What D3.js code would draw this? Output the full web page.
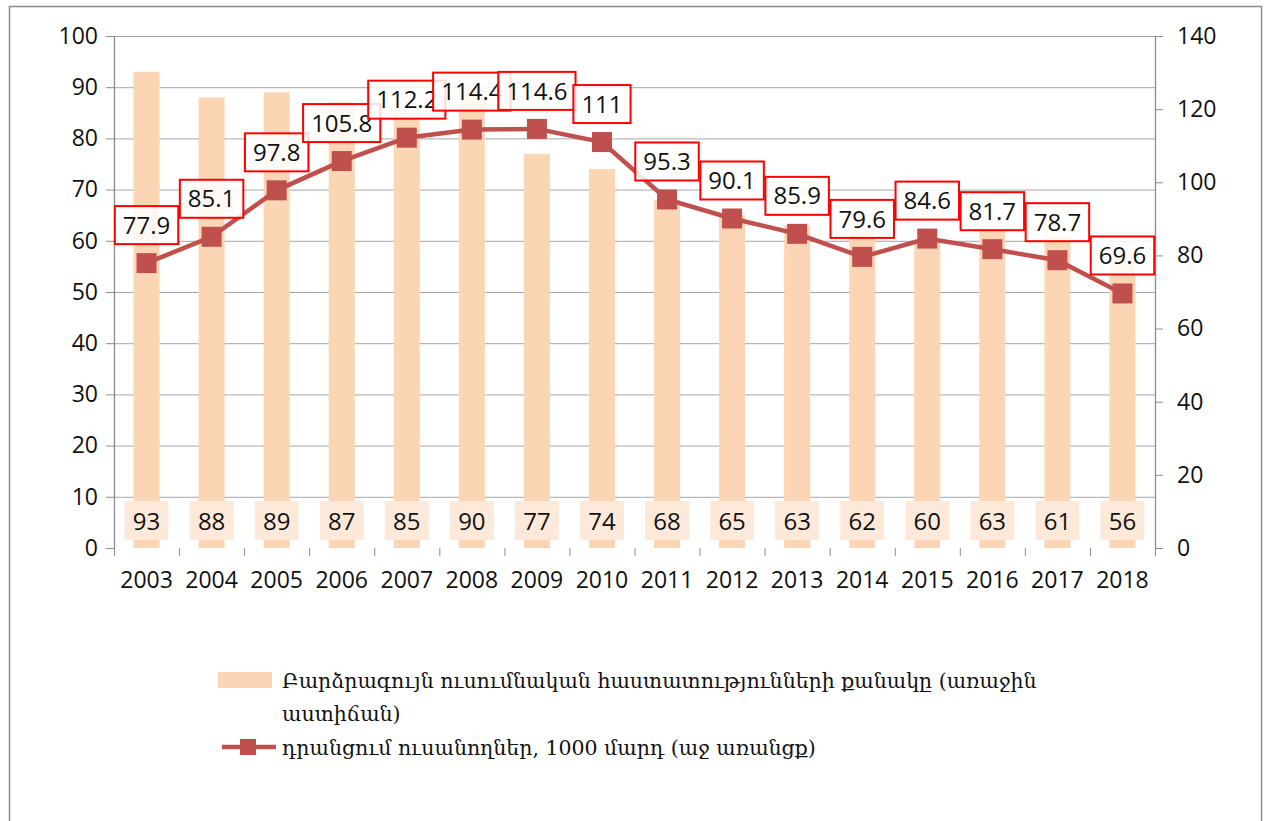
<!DOCTYPE html>
<meta charset="utf-8">
<style>
  body { margin: 0; background: #fff; }
  text { font-family: "Open Sans", "DejaVu Sans", sans-serif; }
</style>
<body>
<div class="chart"></div>
<script src="https://d3js.org/d3.v7.min.js"></script>
<script>

// data
var years = ["2003","2004","2005","2006","2007","2008","2009","2010","2011","2012","2013","2014","2015","2016","2017","2018"];
var institutions = [93, 88, 89, 87, 85, 90, 77, 74, 68, 65, 63, 62, 60, 63, 61, 56];
var students = [77.9, 85.1, 97.8, 105.8, 112.2, 114.4, 114.6, 111, 95.3, 90.1, 85.9, 79.6, 84.6, 81.7, 78.7, 69.6];
var leftTicks = [0, 10, 20, 30, 40, 50, 60, 70, 80, 90, 100];
var rightTicks = [0, 20, 40, 60, 80, 100, 120, 140];
var legendBar = ["Բարձրագույն ուսումնական հաստատությունների քանակը (առաջին", "աստիճան)"];
var legendLine = "դրանցում ուսանողներ, 1000 մարդ (աջ առանցք)";

var W = 1268, H = 821;
var margin = {top: 36, right: 113, bottom: 273, left: 114},
    width = W - margin.left - margin.right,
    height = H - margin.top - margin.bottom;

var svg = d3.select(".chart").append("svg")
    .attr("width", W)
    .attr("height", H);

// outer frame
svg.append("rect")
    .attr("x", 9.5).attr("y", 6.5)
    .attr("width", 1252).attr("height", 830)
    .attr("fill", "none")
    .attr("stroke", "#8c8c8c")
    .attr("stroke-width", 1.5);

var g = svg.append("g")
    .attr("transform", "translate(" + margin.left + "," + margin.top + ")");

// scales
var xCat = d3.scaleBand().domain(years).range([0, width]);
var y = d3.scaleLinear().domain([0, 100]).range([height, 0]);
var y2 = d3.scaleLinear().domain([0, 140]).range([height, 0]);

// gridlines
g.selectAll(".grid")
    .data(leftTicks.slice(1))
  .enter().append("line")
    .attr("x1", 0).attr("x2", width)
    .attr("y1", function(d) { return y(d) + 0.5; })
    .attr("y2", function(d) { return y(d) + 0.5; })
    .style("stroke", "#a6a6a6")
    .style("stroke-width", 1);

// bars
g.selectAll(".bar")
    .data(institutions)
  .enter().append("rect")
    .attr("x", function(d, i) { return xCat(years[i]) + xCat.bandwidth() / 2 - 13; })
    .attr("width", 26)
    .attr("y", function(d) { return y(d); })
    .attr("height", function(d) { return height - y(d); })
    .style("fill", "#fcd5b4");

// axes
var axisColor = "#8c8c8c";
var yAxis = g.append("g")
    .call(d3.axisLeft(y).tickValues(leftTicks).tickSize(8).tickPadding(8));
var y2Axis = g.append("g")
    .attr("transform", "translate(" + width + ",0)")
    .call(d3.axisRight(y2).tickValues(rightTicks).tickSize(8).tickPadding(14));
var xAxis = g.append("g")
    .attr("transform", "translate(0," + height + ")")
    .call(d3.axisBottom(xCat).tickSize(0).tickPadding(24));

// bottom tick marks between categories
g.selectAll(".xtick")
    .data(d3.range(years.length + 1))
  .enter().append("line")
    .attr("x1", function(i) { return i * xCat.step() + 0.5; })
    .attr("x2", function(i) { return i * xCat.step() + 0.5; })
    .attr("y1", height).attr("y2", height + 8)
    .style("stroke", axisColor);

[yAxis, y2Axis, xAxis].forEach(function(a) {
  a.select(".domain").style("stroke", axisColor).style("stroke-width", 1.3);
  a.selectAll(".tick line").style("stroke", axisColor);
  a.selectAll("text").style("font-size", "23px").style("fill", "#111")
    .style("font-family", "'Open Sans', sans-serif");
});
yAxis.select(".domain").attr("d", "M0.5," + height + "V0");
y2Axis.select(".domain").attr("d", "M0.5," + height + "V0");
xAxis.select(".domain").attr("d", "M0," + (height + 0.5) + "H" + width);

// bar labels, inside base
var bl = g.selectAll(".blabel")
    .data(institutions)
  .enter().append("g")
    .attr("transform", function(d, i) {
      return "translate(" + (xCat(years[i]) + xCat.bandwidth() / 2) + "," + (height - 27) + ")";
    });
bl.append("rect")
    .attr("x", -22).attr("y", -20)
    .attr("width", 44).attr("height", 39)
    .style("fill", "#fde9d9");
bl.append("text")
    .attr("text-anchor", "middle")
    .attr("dy", "0.36em")
    .style("font-size", "24px")
    .style("fill", "#111")
    .text(function(d) { return d; });

// line
var cx = function(i) { return xCat(years[i]) + xCat.bandwidth() / 2; };
var line = d3.line()
    .x(function(d, i) { return cx(i); })
    .y(function(d) { return y2(d); });

g.append("path")
    .datum(students)
    .attr("d", line)
    .style("fill", "none")
    .style("stroke", "#c0504d")
    .style("stroke-width", 4.5);

g.selectAll(".marker")
    .data(students)
  .enter().append("rect")
    .attr("x", function(d, i) { return cx(i) - 10; })
    .attr("y", function(d) { return y2(d) - 10; })
    .attr("width", 20).attr("height", 20)
    .style("fill", "#c0504d");

// line labels in red boxes
var ll = g.selectAll(".llabel")
    .data(students)
  .enter().append("g")
    .attr("transform", function(d, i) {
      return "translate(" + cx(i) + "," + (y2(d) - 38) + ")";
    });
ll.append("text")
    .attr("text-anchor", "middle")
    .attr("dy", "0.36em")
    .style("font-size", "24px")
    .style("fill", "#111")
    .text(function(d) { return d; });
ll.insert("rect", "text")
    .each(function() {
      var t = d3.select(this.parentNode).select("text").node().getBBox();
      d3.select(this)
        .attr("x", -t.width / 2 - 8)
        .attr("y", -19)
        .attr("width", t.width + 16)
        .attr("height", 38);
    })
    .style("fill", "#fff")
    .style("fill-opacity", 0.85)
    .style("stroke", "#ff0000")
    .style("stroke-width", 2);

// legend
var lg = svg.append("g");
lg.append("rect")
    .attr("x", 218).attr("y", 672)
    .attr("width", 54).attr("height", 16)
    .style("fill", "#fcd5b4");
lg.selectAll(".leg1")
    .data(legendBar)
  .enter().append("text")
    .attr("x", 282)
    .attr("y", function(d, i) { return 688 + i * 33; })
    .style("font-family", "'DejaVu Serif', serif")
    .style("font-size", "20.5px")
    .style("fill", "#111")
    .text(function(d) { return d; });
lg.append("line")
    .attr("x1", 222).attr("x2", 276)
    .attr("y1", 747).attr("y2", 747)
    .style("stroke", "#c0504d")
    .style("stroke-width", 4.5);
lg.append("rect")
    .attr("x", 240).attr("y", 739)
    .attr("width", 16).attr("height", 16)
    .style("fill", "#c0504d");
lg.append("text")
    .attr("x", 282).attr("y", 755)
    .style("font-family", "'DejaVu Serif', serif")
    .style("font-size", "20.5px")
    .style("fill", "#111")
    .text(legendLine);

</script>
</body>
